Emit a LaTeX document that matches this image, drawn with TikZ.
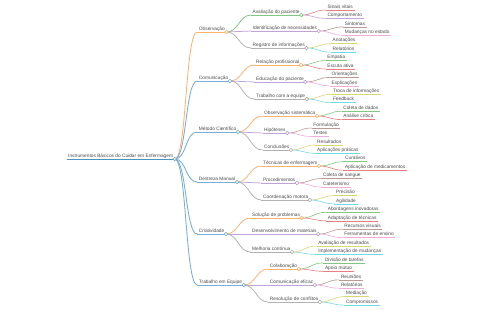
\documentclass[tikz,border=0pt]{standalone}
\usepackage{fontspec}
\setmainfont{Liberation Sans}
\usepackage{tikz}
\definecolor{mmblue}{RGB}{31,119,180}
\definecolor{mmorange}{RGB}{255,127,14}
\definecolor{mmgreen}{RGB}{44,160,44}
\definecolor{mmred}{RGB}{214,39,40}
\definecolor{mmpurple}{RGB}{148,103,189}
\definecolor{mmbrown}{RGB}{140,86,75}
\definecolor{mmpink}{RGB}{227,119,194}
\definecolor{mmgray}{RGB}{127,127,127}
\definecolor{mmolive}{RGB}{188,189,34}
\definecolor{mmcyan}{RGB}{23,190,207}

\begin{document}
\begin{tikzpicture}[
  x=1bp, y=-1bp,
  mm/.style={anchor=south west, inner xsep=1.5bp, inner ysep=0.6bp,
    text depth=1bp, text=black!70, font={\fontsize{4.8bp}{5.8bp}\selectfont}},
  lvlone/.style={xshift=22.5bp},
  lvltwo/.style={xshift=24.5bp},
  wroot/.style={line width=1bp},
  wone/.style={line width=0.85bp},
  wtwo/.style={line width=0.75bp},
  wthree/.style={line width=0.6bp}
]
\useasboundingbox[fill=white] (0,0) rectangle (480,320);

% Tema central
\node[mm] (root) at (66.5,159) {Instrumentos Básicos do Cuidar em Enfermagem};

% Primeiro nível
\node[mm, lvlone] (obs) at (root.south east |- 0,32) {Observação};
\node[mm, lvlone] (com) at (root.south east |- 0,81) {Comunicação};
\node[mm, lvlone] (met) at (root.south east |- 0,132) {Método Científico};
\node[mm, lvlone] (des) at (root.south east |- 0,182) {Destreza Manual};
\node[mm, lvlone] (cri) at (root.south east |- 0,234) {Criatividade};
\node[mm, lvlone] (equ) at (root.south east |- 0,285) {Trabalho em Equipe};

% Segundo nível
\node[mm, lvltwo] (ava) at (obs.south east |- 0,15) {Avaliação do paciente};
\node[mm, lvltwo] (ide) at (obs.south east |- 0,31) {Identificação de necessidades};
\node[mm, lvltwo] (reg) at (obs.south east |- 0,48) {Registro de informações};
\node[mm, lvltwo] (rel) at (com.south east |- 0,65) {Relação profissional};
\node[mm, lvltwo] (edu) at (com.south east |- 0,82) {Educação do paciente};
\node[mm, lvltwo] (tce) at (com.south east |- 0,99) {Trabalho com a equipe};
\node[mm, lvltwo] (osi) at (met.south east |- 0,116) {Observação sistemática};
\node[mm, lvltwo] (hip) at (met.south east |- 0,133) {Hipóteses};
\node[mm, lvltwo] (con) at (met.south east |- 0,150) {Conclusões};
\node[mm, lvltwo] (tec) at (des.south east |- 0,166) {Técnicas de enfermagem};
\node[mm, lvltwo] (pro) at (des.south east |- 0,183) {Procedimentos};
\node[mm, lvltwo] (coo) at (des.south east |- 0,200) {Coordenação motora};
\node[mm, lvltwo] (sol) at (cri.south east |- 0,218) {Solução de problemas};
\node[mm, lvltwo] (dmt) at (cri.south east |- 0,234) {Desenvolvimento de materiais};
\node[mm, lvltwo] (mel) at (cri.south east |- 0,252) {Melhoria contínua};
\node[mm, lvltwo] (col) at (equ.south east |- 0,269) {Colaboração};
\node[mm, lvltwo] (cef) at (equ.south east |- 0,285) {Comunicação eficaz};
\node[mm, lvltwo] (res) at (equ.south east |- 0,302) {Resolução de conflitos};

% Terceiro nível
\node[mm, lvltwo] (sin) at (ava.south east |- 0,10.0) {Sinais vitais};
\node[mm, lvltwo] (cpt) at (ava.south east |- 0,18.4) {Comportamento};
\node[mm, lvltwo] (sit) at (ide.south east |- 0,26.9) {Sintomas};
\node[mm, lvltwo] (mud) at (ide.south east |- 0,35.3) {Mudanças no estado};
\node[mm, lvltwo] (ano) at (reg.south east |- 0,43.7) {Anotações};
\node[mm, lvltwo] (rla) at (reg.south east |- 0,52.2) {Relatórios};
\node[mm, lvltwo] (emp) at (rel.south east |- 0,60.6) {Empatia};
\node[mm, lvltwo] (esc) at (rel.south east |- 0,69.0) {Escuta ativa};
\node[mm, lvltwo] (ori) at (edu.south east |- 0,77.4) {Orientações};
\node[mm, lvltwo] (exp) at (edu.south east |- 0,85.9) {Explicações};
\node[mm, lvltwo] (tro) at (tce.south east |- 0,94.3) {Troca de informações};
\node[mm, lvltwo] (fee) at (tce.south east |- 0,102.7) {Feedback};
\node[mm, lvltwo] (cdd) at (osi.south east |- 0,111.2) {Coleta de dados};
\node[mm, lvltwo] (ana) at (osi.south east |- 0,119.6) {Análise crítica};
\node[mm, lvltwo] (frm) at (hip.south east |- 0,128.0) {Formulação};
\node[mm, lvltwo] (tes) at (hip.south east |- 0,136.5) {Testes};
\node[mm, lvltwo] (rsd) at (con.south east |- 0,144.9) {Resultados};
\node[mm, lvltwo] (apl) at (con.south east |- 0,153.3) {Aplicações práticas};
\node[mm, lvltwo] (cur) at (tec.south east |- 0,161.7) {Curativos};
\node[mm, lvltwo] (med) at (tec.south east |- 0,170.2) {Aplicação de medicamentos};
\node[mm, lvltwo] (cds) at (pro.south east |- 0,178.6) {Coleta de sangue};
\node[mm, lvltwo] (cat) at (pro.south east |- 0,187.0) {Cateterismo};
\node[mm, lvltwo] (pre) at (coo.south east |- 0,195.5) {Precisão};
\node[mm, lvltwo] (agi) at (coo.south east |- 0,203.9) {Agilidade};
\node[mm, lvltwo] (abo) at (sol.south east |- 0,212.3) {Abordagens inovadoras};
\node[mm, lvltwo] (ada) at (sol.south east |- 0,220.8) {Adaptação de técnicas};
\node[mm, lvltwo] (rec) at (dmt.south east |- 0,229.2) {Recursos visuais};
\node[mm, lvltwo] (fer) at (dmt.south east |- 0,237.6) {Ferramentas de ensino};
\node[mm, lvltwo] (avr) at (mel.south east |- 0,246.0) {Avaliação de resultados};
\node[mm, lvltwo] (imp) at (mel.south east |- 0,254.5) {Implementação de mudanças};
\node[mm, lvltwo] (div) at (col.south east |- 0,262.9) {Divisão de tarefas};
\node[mm, lvltwo] (apo) at (col.south east |- 0,271.3) {Apoio mútuo};
\node[mm, lvltwo] (reu) at (cef.south east |- 0,279.8) {Reuniões};
\node[mm, lvltwo] (rlb) at (cef.south east |- 0,288.2) {Relatórios};
\node[mm, lvltwo] (mdc) at (res.south east |- 0,296.6) {Mediação};
\node[mm, lvltwo] (cmp) at (res.south east |- 0,305.1) {Compromissos};

% Ligações
\foreach \p/\c/\k/\w in {root/obs/mmorange/wone, root/com/mmblue/wone, root/met/mmblue/wone,
    root/des/mmblue/wone, root/cri/mmblue/wone, root/equ/mmblue/wone,
    obs/ava/mmgreen/wtwo, obs/ide/mmpurple/wtwo, obs/reg/mmgray/wtwo,
    com/rel/mmorange/wtwo, com/edu/mmpurple/wtwo, com/tce/mmgray/wtwo,
    met/osi/mmorange/wtwo, met/hip/mmpurple/wtwo, met/con/mmgray/wtwo,
    des/tec/mmorange/wtwo, des/pro/mmpurple/wtwo, des/coo/mmgray/wtwo,
    cri/sol/mmorange/wtwo, cri/dmt/mmpurple/wtwo, cri/mel/mmgray/wtwo,
    equ/col/mmorange/wtwo, equ/cef/mmpurple/wtwo, equ/res/mmgray/wtwo,
    ava/sin/mmred/wthree, ava/cpt/mmpurple/wthree, ide/sit/mmbrown/wthree, ide/mud/mmpink/wthree,
    reg/ano/mmolive/wthree, reg/rla/mmcyan/wthree, rel/emp/mmgreen/wthree, rel/esc/mmred/wthree,
    edu/ori/mmbrown/wthree, edu/exp/mmpink/wthree, tce/tro/mmolive/wthree, tce/fee/mmcyan/wthree,
    osi/cdd/mmgreen/wthree, osi/ana/mmred/wthree, hip/frm/mmbrown/wthree, hip/tes/mmpink/wthree,
    con/rsd/mmolive/wthree, con/apl/mmcyan/wthree, tec/cur/mmgreen/wthree, tec/med/mmred/wthree,
    pro/cds/mmbrown/wthree, pro/cat/mmpink/wthree, coo/pre/mmolive/wthree, coo/agi/mmcyan/wthree,
    sol/abo/mmgreen/wthree, sol/ada/mmred/wthree, dmt/rec/mmbrown/wthree, dmt/fer/mmpink/wthree,
    mel/avr/mmolive/wthree, mel/imp/mmcyan/wthree, col/div/mmgreen/wthree, col/apo/mmred/wthree,
    cef/reu/mmbrown/wthree, cef/rlb/mmpink/wthree, res/mdc/mmolive/wthree, res/cmp/mmcyan/wthree} {
  \draw[\k!60, \w] (\p.south east) .. controls +(12,0) and +(-12,0) .. (\c.south west);
  \draw[\k!60, \w] (\c.south west) -- (\c.south east);
}
\draw[mmblue!80, wroot] (root.south west) -- (root.south east);

% Círculos
\foreach \n/\k in {root/mmblue, obs/mmorange, com/mmblue, met/mmblue, des/mmblue, cri/mmblue,
    equ/mmblue, ava/mmgreen, ide/mmpurple, reg/mmgray, rel/mmorange, edu/mmpurple, tce/mmgray,
    osi/mmorange, hip/mmpurple, con/mmgray, tec/mmorange, pro/mmpurple, coo/mmgray,
    sol/mmorange, dmt/mmpurple, mel/mmgray, col/mmorange, cef/mmpurple, res/mmgray}
  \draw[\k!65, line width=0.55bp, fill=white] (\n.south east) circle (1.8bp);

\end{tikzpicture}
\end{document}
